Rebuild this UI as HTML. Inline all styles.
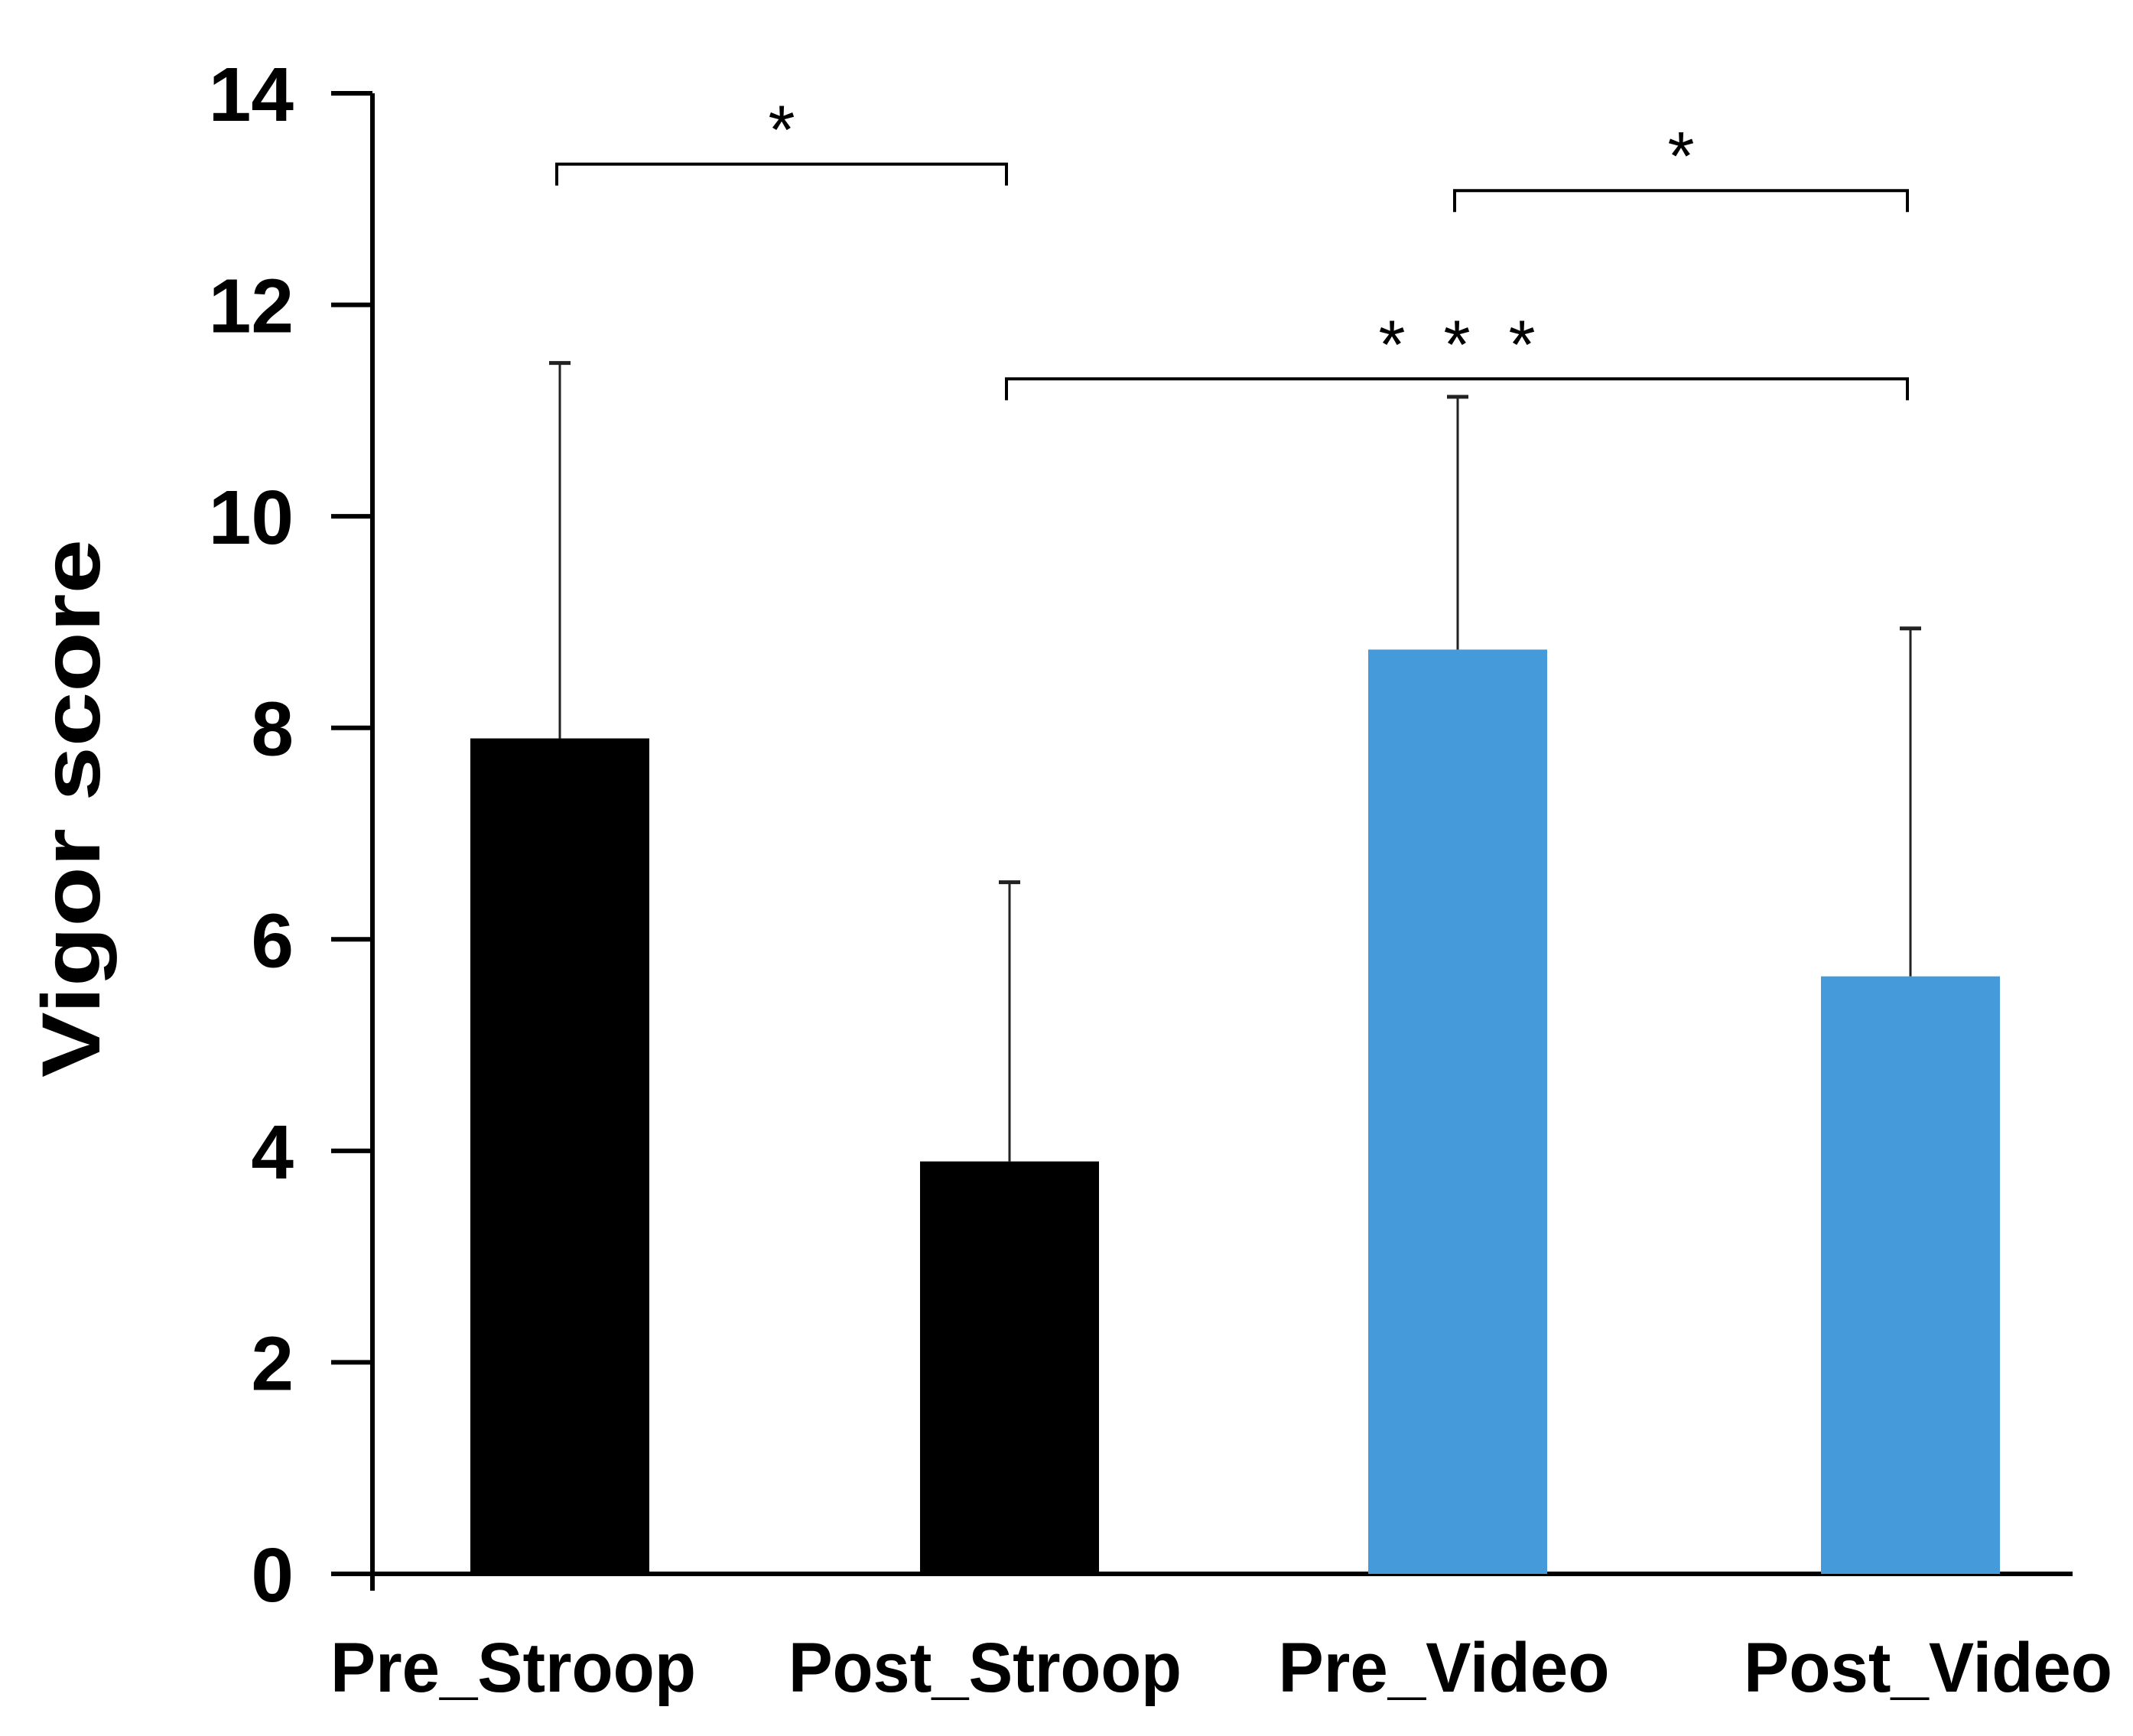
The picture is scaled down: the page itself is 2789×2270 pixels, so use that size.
<!DOCTYPE html>
<html><head><meta charset="utf-8"><style>
html,body{margin:0;padding:0;background:#fff}
svg{display:block}
text{font-family:"Liberation Sans",Arial,sans-serif;font-weight:bold;fill:#000}
</style></head><body>
<svg id="chart" width="2789" height="2270" viewBox="0 0 2789 2270" xmlns="http://www.w3.org/2000/svg">
<text x="0" y="0" font-size="108" text-anchor="middle" textLength="704" lengthAdjust="spacingAndGlyphs" transform="translate(130,1057) rotate(-90)">Vigor score</text>
<g id="axes"></g>
<g id="bars"></g>
<g id="sig"></g>
</svg>
<script>
const categories=["Pre_Stroop","Post_Stroop","Pre_Video","Post_Video"];
const means=[7.9,3.9,8.74,5.65];
const errors=[3.55,2.64,2.39,3.29];
const colors=["#000000","#000000","#459bd9","#459bd9"];
const yTicks=[0,2,4,6,8,10,12,14];
const brackets=[[0,1,"*",13.33],[1,3,"*  *  *",11.3],[2,3,"*",13.08]];
const NS="http://www.w3.org/2000/svg";
const y0=2058,y14=122,pxPer=(y0-y14)/14,axisX=487;
const barW=234;
const centers=[732,1320,1906,2498];
const labelCenters=[671,1288,1888,2521];
const labelWidths=[478,514,433,482];
function yS(v){return y0-v*pxPer;}
function xS(i){return centers[i];}
function mk(tag,attrs,parent){const e=document.createElementNS(NS,tag);for(const k in attrs)e.setAttribute(k,attrs[k]);parent.appendChild(e);return e;}
const axes=document.getElementById('axes'),bars=document.getElementById('bars'),sig=document.getElementById('sig');
let l=mk('line',{x1:axisX,y1:yS(14),x2:axisX,y2:2080,stroke:'#000','stroke-width':6},axes);


l=mk('line',{x1:444,y1:y0,x2:2710,y2:y0,stroke:'#000','stroke-width':6},axes);


yTicks.forEach(t=>{
 const tk=mk('line',{x1:433,y1:yS(t),x2:axisX,y2:yS(t),stroke:'#000','stroke-width':6},axes);
 
 
 const tx=mk('text',{x:384,y:yS(t)+36,'font-size':100,'text-anchor':'end'},axes);
 tx.textContent=t;
 
 
});
categories.forEach((c,i)=>{
 const cx=xS(i);
 const r=mk('rect',{x:cx-barW/2,y:yS(means[i]),width:barW,height:y0-yS(means[i]),fill:colors[i]},bars);
 
 
 const top=yS(means[i]+errors[i]);
 const e=mk('line',{x1:cx,y1:yS(means[i]),x2:cx,y2:top,stroke:'#222','stroke-width':3},bars);
 
 
 const cap=mk('line',{x1:cx-14,y1:top,x2:cx+14,y2:top,stroke:'#222','stroke-width':5},bars);
 
 
 const lb=mk('text',{x:labelCenters[i],y:2212,'font-size':92,'text-anchor':'middle',textLength:labelWidths[i],lengthAdjust:'spacingAndGlyphs'},bars);
 lb.textContent=c;
 
 
});
brackets.forEach(b=>{
 const x1=xS(b[0])-4,x2=xS(b[1])-4,y=yS(b[3]);
 const p=mk('path',{d:`M${x1},${y+28} L${x1},${y} L${x2},${y} L${x2},${y+28}`,fill:'none',stroke:'#000','stroke-width':4},sig);
 
 
 const s=mk('text',{x:(x1+x2)/2,y:y-14,'font-size':90,'text-anchor':'middle'},sig);
 s.setAttribute('style','font-weight:normal;white-space:pre');
 s.textContent=b[2];
 
 
});
</script>
</body></html>
